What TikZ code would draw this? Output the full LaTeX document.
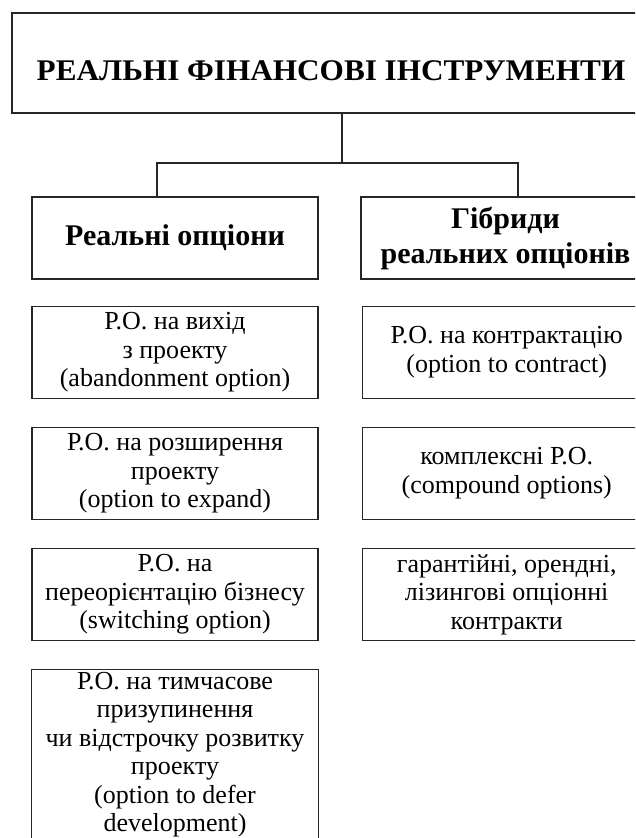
\documentclass[tikz,border=0pt]{standalone}
\usepackage{fontspec}
\setmainfont{Liberation Serif}
\usetikzlibrary{positioning}

\begin{document}
\begin{tikzpicture}[
    x=1pt, y=-1pt,
    node distance=28pt and 43pt,
    box/.style={
        rectangle,
        draw=black!85,
        line width=1.2pt,
        align=center,
        inner sep=0pt
    },
    head/.style={
        box,
        minimum width=638pt,
        minimum height=100pt,
        text height=34pt,
        text depth=0pt,
        font=\fontsize{30}{34}\selectfont\bfseries
    },
    group/.style={
        box,
        minimum height=82pt,
        font=\fontsize{30}{35}\selectfont\bfseries
    },
    opt/.style={
        box,
        minimum width=286pt,
        minimum height=92pt,
        font=\fontsize{26}{28.5}\selectfont
    },
    link/.style={draw=black!85, line width=1.2pt}
]
\useasboundingbox (0,0) rectangle (635,838);
\clip (0,0) rectangle (635,838);

% Top box
\node[head] (title) at (331,63) {\scalebox{1.04}[1]{РЕАЛЬНІ ФІНАНСОВІ ІНСТРУМЕНТИ}};

% Two groups
\node[group, minimum width=286pt] (real)   at (175,238)   {Реальні опціони};
\node[group, minimum width=289pt] (hybrid) at (505.5,238) {Гібриди\\реальних опціонів};

% Real options column
\node[opt, below=26pt of real] (abandon) {Р.О. на вихід\\з проекту\\(abandonment option)};
\node[opt, below=of abandon]   (expand)  {Р.О. на розширення\\проекту\\(option to expand)};
\node[opt, below=of expand]    (switch)  {Р.О. на\\переорієнтацію бізнесу\\(switching option)};
\node[opt, draw=none, below=of switch, minimum height=170pt] (defer)
    {Р.О. на тимчасове\\призупинення\\чи відстрочку розвитку\\проекту\\(option to defer\\development)};
% frame of the last box runs off the page
\draw[link] ([yshift=-20pt]defer.south west) -- (defer.north west)
    -- (defer.north east) -- ([yshift=-20pt]defer.south east);

% Hybrids column
\node[opt, minimum width=289pt, right=of abandon] (contract) {Р.О. на контрактацію\\(option to contract)};
\node[opt, minimum width=289pt, right=of expand]  (compound) {комплексні Р.О.\\(compound options)};
\node[opt, minimum width=289pt, right=of switch]  (lease)    {гарантійні, орендні,\\лізингові опціонні\\контракти};

% Connectors
\coordinate (split) at (342,163);
\coordinate (jleft) at (157,163);
\coordinate (jright) at (518,163);
\draw[link] (title.south -| split) -- (split);
\draw[link] (jleft |- real.north) -- (jleft) -- (jright) -- (jright |- hybrid.north);

\end{tikzpicture}
\end{document}
